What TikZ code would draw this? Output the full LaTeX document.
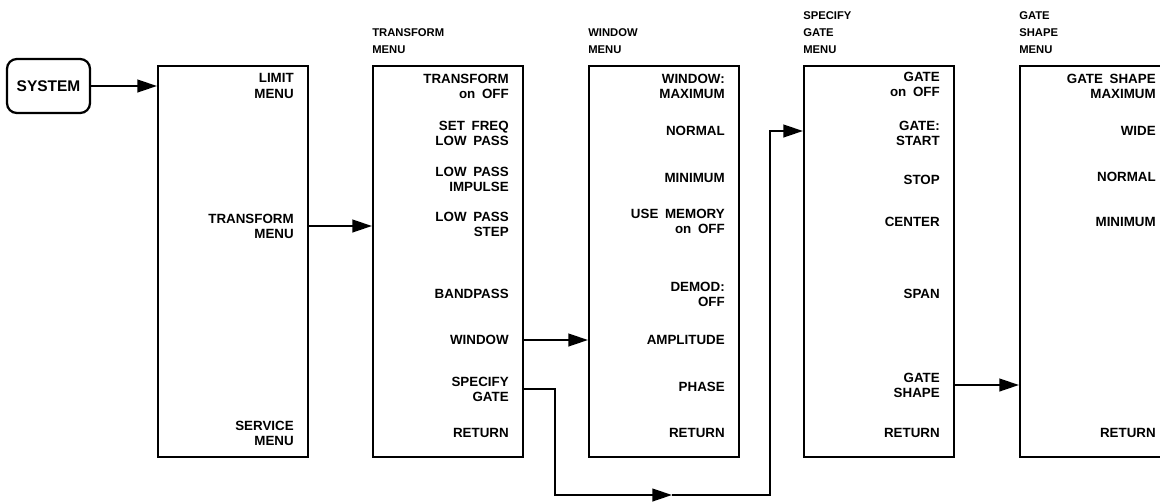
\documentclass[tikz,border=0pt]{standalone}
\usepackage{fontspec}
\setsansfont{Liberation Sans}
\usepackage{tikz}
\usetikzlibrary{arrows.meta,positioning}

\begin{document}
\begin{tikzpicture}[x=0.025cm, y=-0.025cm,
    every node/.style={font=\sffamily\bfseries\fontsize{9.5}{10.8}\selectfont, inner sep=0pt},
    menu/.style={draw, line width=1.6pt, anchor=north west, minimum width=3.75cm,
      minimum height=9.775cm},
    item/.style={anchor=east, align=right},
    head/.style={anchor=south west, align=left, font=\sffamily\bfseries\fontsize{8}{12}\selectfont},
    link/.style={line width=1.6pt},
    arr/.style={link, -{Triangle[length=14pt, width=9pt]}}
  ]
    \useasboundingbox (0,0) rectangle (1160,501);
    % System key
    \node[draw, line width=1.6pt, rounded corners=7pt, minimum width=2.075cm,
      minimum height=1.35cm, font=\sffamily\bfseries\fontsize{11}{13}\selectfont] (sys) at (48.5,86) {SYSTEM};
    % Menu boxes
    \node[menu] (m1) at (157,65) {};
    \node[menu] (m2) at (372,65) {};
    \node[menu] (m3) at (588,65) {};
    \node[menu] (m4) at (803,65) {};
    \node[menu] (m5) at (1019,65) {};
    % Titles
    \node[head] (h2) at (372,54) {TRANSFORM\\MENU};
    \node[head] (h3) at (588,54) {WINDOW\\MENU};
    \node[head] (h4) at (803,54) {SPECIFY\\GATE\\MENU};
    \node[head] (h5) at (1019,54) {GATE\\SHAPE\\MENU};
    % System menu keys
    \node[item] (lim) at (294,86) {LIMIT\\MENU};
    \node[item] (tfm) at (294,226) {TRANSFORM\\MENU};
    \node[item] (svc) at (294,433) {SERVICE\\MENU};
    % Transform menu keys
    \node[item] (t1) at (509,86) {TRANSFORM\\on\enspace OFF};
    \node[item] (t2) at (509,133) {SET\enspace FREQ\\LOW\enspace PASS};
    \node[item] (t3) at (509,179) {LOW\enspace PASS\\IMPULSE};
    \node[item] (t4) at (509,224) {LOW\enspace PASS\\STEP};
    \node[item] (t5) at (509,294) {BANDPASS};
    \node[item] (t6) at (509,340) {WINDOW};
    \node[item] (t7) at (509,389) {SPECIFY\\GATE};
    \node[item] (t8) at (509,433) {RETURN};
    % Window menu keys
    \node[item] (w1) at (725,86) {WINDOW:\\MAXIMUM};
    \node[item] (w2) at (725,131) {NORMAL};
    \node[item] (w3) at (725,178) {MINIMUM};
    \node[item] (w4) at (725,221) {USE\enspace MEMORY\\on\enspace OFF};
    \node[item] (w5) at (725,294) {DEMOD:\\OFF};
    \node[item] (w6) at (725,340) {AMPLITUDE};
    \node[item] (w7) at (725,387) {PHASE};
    \node[item] (w8) at (725,433) {RETURN};
    % Specify gate menu keys
    \node[item] (s1) at (940,84) {GATE\\on\enspace OFF};
    \node[item] (s2) at (940,133) {GATE:\\START};
    \node[item] (s3) at (940,180) {STOP};
    \node[item] (s4) at (940,222) {CENTER};
    \node[item] (s5) at (940,294) {SPAN};
    \node[item] (s7) at (940,385) {GATE\\SHAPE};
    \node[item] (s8) at (940,433) {RETURN};
    % Gate shape menu keys
    \node[item] (g1) at (1156,86) {GATE\enspace SHAPE\\MAXIMUM};
    \node[item] (g2) at (1156,131) {WIDE};
    \node[item] (g3) at (1156,177) {NORMAL};
    \node[item] (g4) at (1156,222) {MINIMUM};
    \node[item] (g8) at (1156,433) {RETURN};
    % Connectors
    \coordinate (c1) at (555,495);
    \coordinate (c2) at (672,495);
    \coordinate (c3) at (770,495);
    \draw[arr] (sys) -- (sys -| m1.west);
    \draw[arr] (m1.east |- tfm) -- (m2.west |- tfm);
    \draw[arr] (m2.east |- t6) -- (m3.west |- t6);
    \draw[arr] (m2.east |- t7) -| (c1) -- (c2);
    \draw[arr] (c2) -- (c3) |- (m4.west |- 0,131);
    \draw[arr] (m4.east |- s7) -- (m5.west |- s7);
  \end{tikzpicture}
\end{document}
